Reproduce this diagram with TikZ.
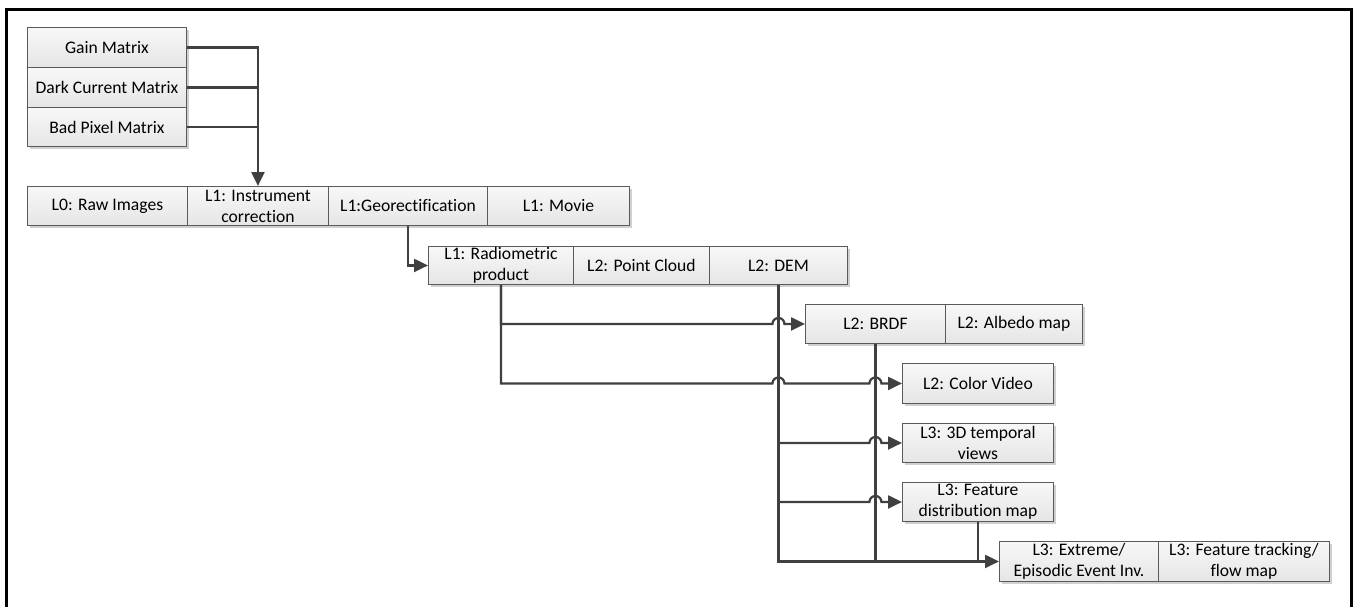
\documentclass[tikz,border=0pt]{standalone}
\usepackage{fontspec}
\setmainfont{Carlito}[Ligatures={NoCommon}]
\usetikzlibrary{arrows.meta,calc,shadows}

\definecolor{linegray}{HTML}{404040}
\definecolor{edgegray}{HTML}{5A5A5A}
\definecolor{shadowgray}{HTML}{D0D0D0}

\tikzset{
  prodbox/.style={draw=edgegray, line width=0.9pt,
    top color=white!97!black, bottom color=white!90!black,
    general shadow={fill=shadowgray, shadow xshift=3pt, shadow yshift=-3pt},
    anchor=north west, inner sep=0pt, align=center,
    font=\fontsize{17.6}{21}\selectfont},
  flow/.style={draw=linegray, line width=2.2pt,
    -{Triangle[length=14pt,width=13pt]}},
  feed/.style={draw=linegray, line width=2.2pt},
}

% place a box from its top-left corner with a given width and height (pt)
\newcommand{\prodnode}[6]{%
  \node[prodbox, minimum width=#4pt, minimum height=#5pt] (#1) at (#2,#3) {#6};}

\begin{document}
\begin{tikzpicture}[x=1pt,y=-1pt]
\useasboundingbox (0,0) rectangle (1353,606);
\fill[white] (0,0) rectangle (1353,606);

% outer frame
\draw[line width=3pt, black] (6,612) -- (6,9) -- (1351,9) -- (1351,612);

% calibration inputs
\prodnode{gain}{27}{27}{159}{40}{Gain Matrix}
\prodnode{dark}{27}{67}{159}{40}{Dark Current Matrix}
\prodnode{bad}{27}{107}{159}{39}{Bad Pixel Matrix}

% level 0 / level 1 row
\prodnode{raw}{27}{186}{160}{39}{L0: Raw Images}
\prodnode{inst}{187}{186}{141}{39}{L1: Instrument\\correction}
\prodnode{geo}{328}{186}{159}{39}{L1:Georectification}
\prodnode{movie}{487}{186}{142}{39}{L1: Movie}

% radiometric / geometric row
\prodnode{radio}{428}{246}{145}{38}{L1: Radiometric\\product}
\prodnode{cloud}{573}{246}{136}{38}{L2: Point Cloud}
\prodnode{dem}{709}{246}{138}{38}{L2: DEM}

% photometric products
\prodnode{brdf}{805}{304}{140}{39}{L2: BRDF}
\prodnode{albedo}{945}{304}{137}{39}{L2: Albedo map}
\prodnode{color}{902}{363}{151}{40}{L2: Color Video}
\prodnode{temporal}{902}{423}{151}{39}{L3: 3D temporal\\views}
\prodnode{feature}{902}{482}{151}{39}{L3: Feature\\distribution map}

% level 3 analyses
\prodnode{extreme}{999}{541}{159}{40}{L3: Extreme/\\Episodic Event Inv.}
\prodnode{tracking}{1158}{541}{171}{40}{L3: Feature tracking/\\flow map}

% calibration matrices into instrument correction
\draw[flow] (gain.east) -| (inst.north);
\draw[feed] (dark.east) -- (dark.east -| inst.north);
\draw[feed] (bad.east) -- (bad.east -| inst.north);

% georectification to radiometric product
\draw[flow] (geo.south) |- (radio.west);

% radiometric product to BRDF and colour video (hopping over crossings)
\draw[flow] (radio.south) |- ($(dem.south |- brdf.west)+(-6,0)$)
  arc[start angle=180, end angle=0, radius=6pt] -- (brdf.west);
\draw[flow] (radio.south) |- ($(dem.south |- color.west)+(-6,0)$)
  arc[start angle=180, end angle=0, radius=6pt]
  -- ($(brdf.south |- color.west)+(-6,0)$)
  arc[start angle=180, end angle=0, radius=6pt] -- (color.west);

% DEM trunk and its branches
\draw[flow] (dem.south) |- (extreme.west);
\draw[flow] (dem.south |- temporal.west) -- ($(brdf.south |- temporal.west)+(-6,0)$)
  arc[start angle=180, end angle=0, radius=6pt] -- (temporal.west);
\draw[flow] (dem.south |- feature.west) -- ($(brdf.south |- feature.west)+(-6,0)$)
  arc[start angle=180, end angle=0, radius=6pt] -- (feature.west);

% BRDF and feature map join the bottom line
\draw[feed] (brdf.south) -- (brdf.south |- extreme.west);
\draw[feed] (feature.south) -- (feature.south |- extreme.west);
\end{tikzpicture}
\end{document}
